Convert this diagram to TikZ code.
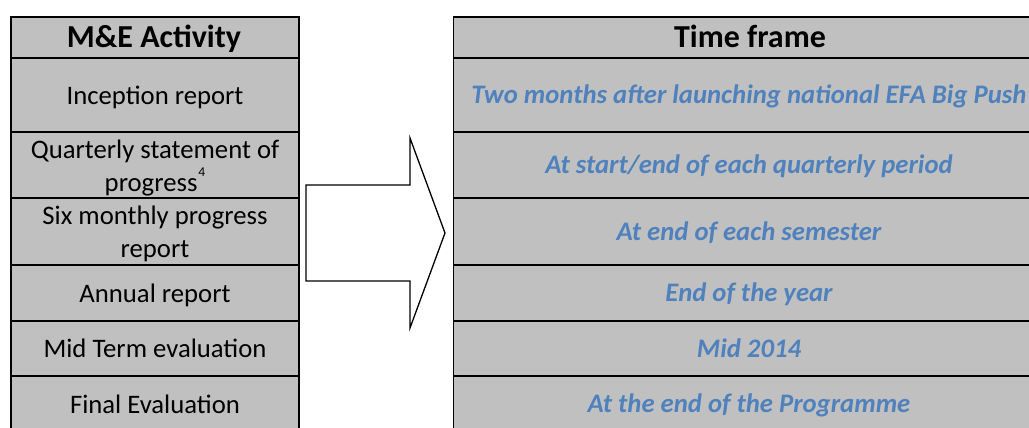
\documentclass[tikz,border=0pt]{standalone}
\usepackage{fontspec}
\setmainfont{Carlito}
\definecolor{cellgrey}{HTML}{C0C0C0}
\definecolor{timeblue}{HTML}{4F81BD}
% raised footnote number in the activity column
\newcommand{\notemark}[1]{\kern1pt\raisebox{15pt}{\fontsize{13.5}{13.5}\selectfont #1}}
\begin{document}
\begin{tikzpicture}[x=1pt,y=-1pt,
  cell/.style={draw=black, line width=1.8pt, fill=cellgrey},
  head/.style={anchor=base, inner sep=0pt, font=\fontsize{32}{38}\selectfont\bfseries},
  act/.style={anchor=base, inner sep=0pt, font=\fontsize{26.7}{33}\selectfont},
  acttwo/.style={anchor=center, inner sep=0pt, align=center, font=\fontsize{26.7}{33}\selectfont},
  when/.style={anchor=base, inner sep=0pt, text=timeblue, font=\fontsize{26.7}{33}\selectfont\bfseries\itshape},
  bigarrow/.style={draw=black, line width=1.3pt, fill=white, line join=miter}
]
\useasboundingbox (0,0) rectangle (1029,428);

% left table: M&E activities
\draw[cell] (11,17)    rectangle (299,57.7);
\draw[cell] (11,57.7)  rectangle (299,132);
\draw[cell] (11,132)   rectangle (299,198);
\draw[cell] (11,198)   rectangle (299,265);
\draw[cell] (11,265)   rectangle (299,321);
\draw[cell] (11,321)   rectangle (299,376);
\draw[cell] (11,376)   rectangle (299,440);

% right table: time frames
\draw[cell] (453.5,17)    rectangle (1046,57.7);
\draw[cell] (453.5,57.7)  rectangle (1046,132);
\draw[cell] (453.5,132)   rectangle (1046,198);
\draw[cell] (453.5,198)   rectangle (1046,265);
\draw[cell] (453.5,265)   rectangle (1046,321);
\draw[cell] (453.5,321)   rectangle (1046,376);
\draw[cell] (453.5,376)   rectangle (1046,440);

% block arrow between the tables
\draw[bigarrow] (306,185) -- (410,185) -- (410,138) -- (445,233)
  -- (410,328) -- (410,281) -- (306,281) -- cycle;

% activity column
\node[head] (acthead) at (154,48) {M\&E Activity};
\node[act] (inception) at (155,104) {Inception report};
\node[acttwo] (quarterly) at (155,168) {Quarterly statement of\\progress\notemark{4}};
\node[acttwo] (sixmonth) at (155,234) {Six monthly progress\\report};
\node[act] (annual) at (155,302) {Annual report};
\node[act] (midterm) at (155,357.5) {Mid Term evaluation};
\node[act] (final) at (155,413) {Final Evaluation};

% time frame column
\node[head] (timehead) at (750,48) {Time frame};
\node[when] (t1) at (749,103.5) {Two months after launching national EFA Big Push};
\node[when] (t2) at (749,173.5) {At start/end of each quarterly period};
\node[when] (t3) at (749,240.5) {At end of each semester};
\node[when] (t4) at (749,301.5) {End of the year};
\node[when] (t5) at (749,357.3) {Mid 2014};
\node[when] (t6) at (749,412.5) {At the end of the Programme};
\end{tikzpicture}
\end{document}
